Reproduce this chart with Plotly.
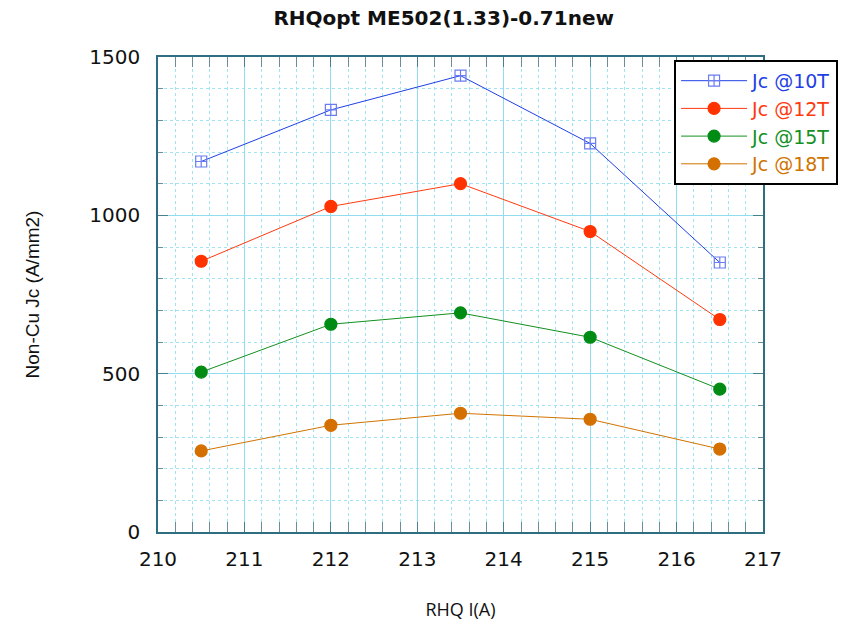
import plotly.graph_objects as go

# Measured non-Cu critical current density vs RHQ current
rhq_current = [210.5, 212.0, 213.5, 215.0, 216.5]
jc_10t = [1170, 1333, 1441, 1227, 851]
jc_12t = [855, 1028, 1100, 949, 671]
jc_15t = [505, 656, 692, 615, 451]
jc_18t = [256, 337, 375, 356, 262]

series_names = ["Jc @10T", "Jc @12T", "Jc @15T", "Jc @18T"]
series_values = [jc_10t, jc_12t, jc_15t, jc_18t]
line_colors = ["#1f3fe6", "#ff3a10", "#13901f", "#d07400"]
marker_colors = ["#6b7cf0", "#ff3300", "#008c14", "#d47000"]
marker_symbols = ["square-cross-open", "circle", "circle", "circle"]

x_ticks = [210, 211, 212, 213, 214, 215, 216, 217]
y_ticks = [0, 500, 1000, 1500]

FONT = "DejaVu Sans"

fig = go.Figure()
for name, vals, lc, mc, sym in zip(series_names, series_values,
                                   line_colors, marker_colors, marker_symbols):
    fig.add_trace(go.Scatter(
        x=rhq_current, y=vals,
        name=f"<span style='color:{lc}'>{name}</span>",
        mode="lines+markers",
        line=dict(color=lc, width=1),
        marker=dict(symbol=sym, size=12 if sym == "circle" else 11,
                    color=mc, line=dict(color=mc, width=1.2)),
    ))

axis_common = dict(
    showline=True, linecolor="#2e6e80", linewidth=1.5, mirror="allticks",
    ticks="inside", ticklen=10, tickcolor="#4a7f8c", tickwidth=1.2,
    showgrid=True, gridcolor="#92dcef", gridwidth=1,
    zeroline=False,
    tickfont=dict(family=FONT, size=20, color="#111111"),
)

fig.update_xaxes(
    range=[210, 217], tickvals=x_ticks, ticktext=[str(v) for v in x_ticks],
    minor=dict(dtick=0.2, ticks="inside", ticklen=10, tickcolor="#6a8f99",
               showgrid=True, gridcolor="#9fe3f5", griddash="dot", gridwidth=1),
    title=dict(text="RHQ I(A)", font=dict(family="Open Sans", size=18, color="#111111"),
               standoff=34),
    ticklabelstandoff=8,
    **axis_common,
)
fig.update_yaxes(
    range=[0, 1500], tickvals=y_ticks, ticktext=[str(v) for v in y_ticks],
    minor=dict(dtick=100, ticks="inside", ticklen=5, tickcolor="#6a8f99",
               showgrid=True, gridcolor="#9fe3f5", griddash="dot", gridwidth=1),
    title=dict(text="Non-Cu Jc (A/mm2)",
               font=dict(family="Liberation Sans", size=19, color="#111111"),
               standoff=45),
    ticklabelstandoff=12,
    **axis_common,
)

fig.update_layout(
    width=850, height=628,
    margin=dict(l=158, r=87, t=57, b=96),
    paper_bgcolor="white", plot_bgcolor="white",
    title=dict(text="<b>RHQopt ME502(1.33)-0.71new</b>", x=0.522, xanchor="center",
               y=0.971, yanchor="middle",
               font=dict(family=FONT, size=20, color="#111111")),
    legend=dict(x=0.853, y=0.994, xanchor="left", yanchor="top",
                bgcolor="white", bordercolor="#000000", borderwidth=2,
                font=dict(family=FONT, size=19),
                itemwidth=66, tracegroupgap=0),
    showlegend=True,
)

fig.write_html("out.html")
